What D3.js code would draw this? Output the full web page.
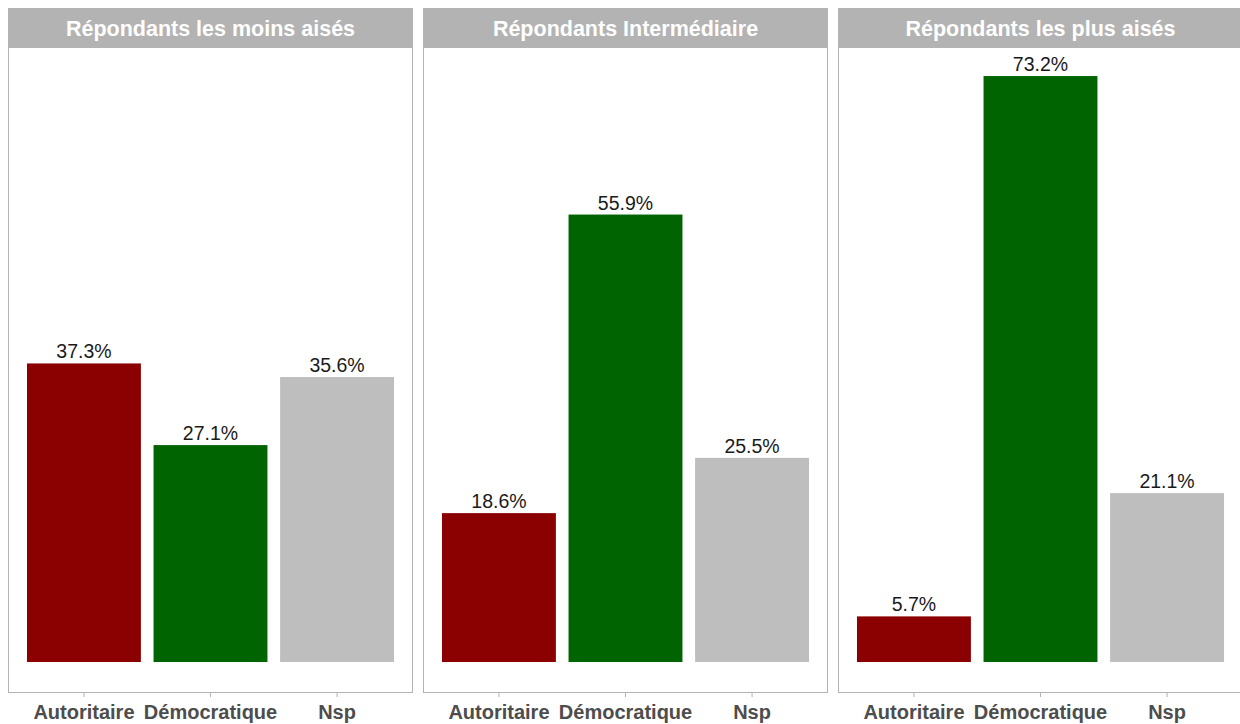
<!DOCTYPE html>
<html>
<head>
<meta charset="utf-8">
<script src="https://cdn.jsdelivr.net/npm/d3@7"></script>
<style>
  body { margin: 0; background: #fff; }
  svg { display: block; font-family: Arial, "Liberation Sans", sans-serif; }
</style>
</head>
<body>
<svg width="1240" height="724"></svg>
<script>
var panels = ["Répondants les moins aisés", "Répondants Intermédiaire", "Répondants les plus aisés"];
var categories = ["Autoritaire", "Démocratique", "Nsp"];
var colors = ["#8b0000", "#006400", "#bebebe"];
var moinsAises = [37.3, 27.1, 35.6];
var intermediaire = [18.6, 55.9, 25.5];
var plusAises = [5.7, 73.2, 21.1];
var values = [moinsAises, intermediaire, plusAises];

var svg = d3.select("svg"),
    margin = {left: 8, top: 8},
    panelW = 405,
    gap = 10,
    stripH = 39,
    panelTop = 47,
    panelBottom = 693;

var y = d3.scaleLinear()
    .domain([-3.87, 76.83])
    .range([panelBottom, panelTop]);

var x = d3.scaleBand()
    .domain(categories)
    .range([0, panelW])
    .paddingInner(0.1)
    .paddingOuter(0.15);

var color = d3.scaleOrdinal().domain(categories).range(colors);

panels.forEach(function(name, i) {
  var g = svg.append("g")
      .attr("transform", "translate(" + (margin.left + i * (panelW + gap)) + ",0)");

  // strip
  g.append("rect")
      .attr("x", 0)
      .attr("y", margin.top)
      .attr("width", panelW)
      .attr("height", stripH)
      .attr("fill", "#b3b3b3");

  g.append("text")
      .attr("x", panelW / 2)
      .attr("y", margin.top + stripH / 2 + 1)
      .attr("dy", "0.36em")
      .attr("text-anchor", "middle")
      .attr("fill", "#fff")
      .attr("font-weight", "bold")
      .attr("font-size", 21.5)
      .text(name);

  var data = categories.map(function(c, j) { return {cat: c, v: values[i][j]}; });

  g.selectAll(".bar")
      .data(data)
    .enter().append("rect")
      .attr("class", "bar")
      .attr("x", function(d) { return x(d.cat); })
      .attr("width", x.bandwidth())
      .attr("y", function(d) { return y(d.v); })
      .attr("height", function(d) { return y(0) - y(d.v); })
      .attr("fill", function(d) { return color(d.cat); });

  g.selectAll(".lbl")
      .data(data)
    .enter().append("text")
      .attr("class", "lbl")
      .attr("x", function(d) { return x(d.cat) + x.bandwidth() / 2; })
      .attr("y", function(d) { return y(d.v) - 5; })
      .attr("text-anchor", "middle")
      .attr("fill", "#1a1a1a")
      .attr("font-size", 19.5)
      .text(function(d) { return d.v.toFixed(1) + "%"; });

  // panel border
  g.append("rect")
      .attr("x", 0.5)
      .attr("y", panelTop + 0.5)
      .attr("width", panelW - 1)
      .attr("height", panelBottom - panelTop - 1)
      .attr("fill", "none")
      .attr("stroke", "#b3b3b3")
      .attr("stroke-width", 1);

  var axis = g.append("g")
      .attr("transform", "translate(0," + panelBottom + ")")
      .call(d3.axisBottom(x).tickSize(4).tickPadding(8));
  axis.select(".domain").remove();
  axis.selectAll("line").attr("stroke", "#b3b3b3");
  axis.selectAll("text")
      .attr("font-size", 20)
      .attr("font-weight", "bold")
      .attr("font-family", "Arial, 'Liberation Sans', sans-serif")
      .attr("fill", "#4d4d4d");
});
</script>
</body>
</html>
